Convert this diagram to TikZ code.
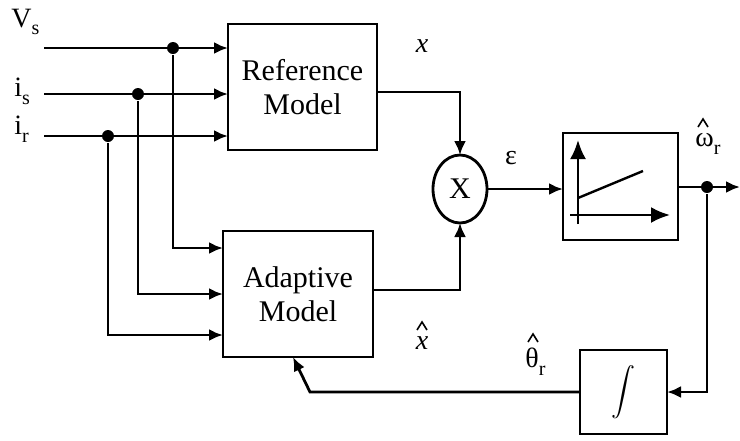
\documentclass[tikz,border=0pt]{standalone}
\usepackage{fontspec}
\setmainfont{Liberation Serif}
\usetikzlibrary{arrows.meta,shapes.geometric}
\newcommand{\lowsub}[1]{\raisebox{-0.28em}{\fontsize{20}{20}\selectfont #1}}
\begin{document}
\begin{tikzpicture}[x=1pt,y=-1pt,
  line width=2.8pt,
  arr/.style={-{Latex[length=14pt,width=12pt]}},
  bigarr/.style={-{Latex[length=19pt,width=16pt]}},
  blk/.style={draw, line width=2.8pt, inner sep=0pt, outer sep=0pt},
  dot/.style={circle, fill, inner sep=0pt, minimum size=12pt},
  lbl/.style={font=\fontsize{28}{30}\selectfont, inner sep=0pt},
  hatmark/.style={line width=1.6pt, line join=miter},
  txt/.style={font=\fontsize{30}{34}\selectfont, align=center}]
\useasboundingbox (0,0) rectangle (740,440);
% blocks
\node[blk, minimum width=149pt, minimum height=126pt, txt] (ref) at (302.5,87) {Reference\\Model};
\node[blk, minimum width=150pt, minimum height=126pt, txt] (ada) at (298,294) {Adaptive\\Model};
\node[blk, ellipse, minimum width=54pt, minimum height=68pt, font=\fontsize{30}{30}\selectfont] (mul) at (460,189) {X};
\node[blk, minimum width=115pt, minimum height=107pt] (pi) at (620.5,186.5) {};
\node[blk, minimum width=87pt, minimum height=84pt] (int) at (623.5,392) {\scalebox{2.4}{$\displaystyle\int$}};
% input labels
\node[lbl, anchor=west] (lvs) at (10,22) {V\lowsub{s}};
\node[lbl, anchor=west] (lis) at (13,91) {i\lowsub{s}};
\node[lbl, anchor=west] (lir) at (13,129) {i\lowsub{r}};
% input coordinates
\coordinate (s1) at (44,48);
\coordinate (s2) at (44,94);
\coordinate (s3) at (44,136);
\node[dot] (d1) at (173,48) {};
\node[dot] (d2) at (138,94) {};
\node[dot] (d3) at (108,136) {};
\coordinate (a1) at (0,248);
\coordinate (a2) at (0,294);
\coordinate (a3) at (0,335);
\draw[arr] (s1) -- (ref.west |- s1);
\draw[arr] (s2) -- (ref.west |- s2);
\draw[arr] (s3) -- (ref.west |- s3);
\draw[arr] (d1) |- (ada.west |- a1);
\draw[arr] (d2) |- (ada.west |- a2);
\draw[arr] (d3) |- (ada.west |- a3);
% model outputs
\coordinate (ro) at (0,92);
\coordinate (ao) at (0,290);
\draw[arr] (ref.east |- ro) -| (mul.north);
\draw[arr] (ada.east |- ao) -| (mul.south);
\draw[arr] (mul.east) -- (pi.west |- mul.east);
% PI block contents
\coordinate (vy0) at (578,224);
\coordinate (vy1) at (578,140);
\coordinate (hx0) at (570,215);
\coordinate (hx1) at (670,215);
\coordinate (sl0) at (578,198);
\coordinate (sl1) at (643,171);
\draw[bigarr, line width=2.6pt] (vy0) -- (vy1);
\draw[bigarr, line width=2.6pt] (hx0) -- (hx1);
\draw[line width=2.4pt] (sl0) -- (sl1);
% output and feedback
\coordinate (out) at (740,187);
\node[dot] (d4) at (707,187) {};
\draw[arr] (pi.east |- out) -- (out);
\draw[arr] (d4) |- (int.east);
\coordinate (k1) at (310,392);
\coordinate (k2) at (293,357);
\draw[arr] (int.west) -- (k1) -- (k2);
% labels
\node[lbl, font=\fontsize{28}{30}\selectfont\itshape] (lx) at (422,46) {x};
\node[lbl, font=\fontsize{28}{30}\selectfont\itshape] (lxh) at (422,343) {x};
\draw[hatmark] (417,330) -- (422,322) -- (427,330);
\node[lbl] (leps) at (511,158) {ε};
\node[lbl, anchor=west] (lom) at (694,144) {ω\lowsub{r}};
\draw[hatmark] (698,127) -- (703,119) -- (708,127);
\node[lbl, anchor=west] (lth) at (524,362) {θ\lowsub{r}};
\draw[hatmark] (528,342) -- (533,334) -- (538,342);
\end{tikzpicture}
\end{document}
